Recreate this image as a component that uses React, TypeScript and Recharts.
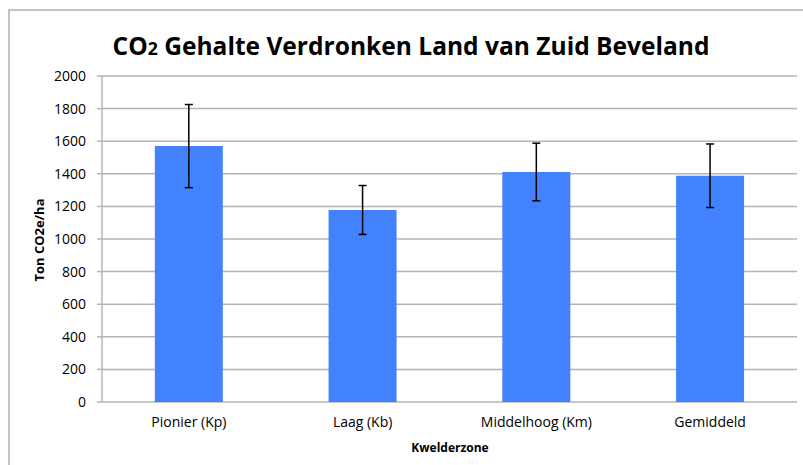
import React from 'react';
import { BarChart, Bar, XAxis, YAxis, CartesianGrid, ErrorBar } from 'recharts';

const categories = ['Pionier (Kp)', 'Laag (Kb)', 'Middelhoog (Km)', 'Gemiddeld'];
const values = [1570, 1178, 1411, 1388];
const errors = [255, 150, 177, 195];
const yTicks = [0, 200, 400, 600, 800, 1000, 1200, 1400, 1600, 1800, 2000];
const boundaryTicks = [0, 1, 2, 3, 4];

const titleMain = 'CO';
const titleSub = '2';
const titleRest = ' Gehalte Verdronken Land van Zuid Beveland';
const yLabel = 'Ton CO2e/ha';
const xLabel = 'Kwelderzone';

const data = categories.map((c, i) => ({ name: c, value: values[i], error: errors[i] }));

const FONT = '"Open Sans", "Noto Sans", sans-serif';
const GRID = '#b4b4b4';

export default function App() {
  return (
    <div style={{ position: 'absolute', left: 0, top: 0, width: 803, height: 465, background: '#fff', overflow: 'hidden' }}>
      <div style={{ position: 'absolute', left: 8, top: 9, width: 795, height: 2, background: '#c4c4c4' }} />
      <div style={{ position: 'absolute', left: 8, top: 9, width: 2, height: 456, background: '#c4c4c4' }} />
      <div style={{ position: 'absolute', left: 0, top: 0 }}>
        <BarChart
          width={803}
          height={465}
          data={data}
          margin={{ top: 76, right: 6, bottom: 0, left: 42 }}
          barCategoryGap="30.4%"
        >
          <CartesianGrid vertical={false} stroke={GRID} strokeWidth={1.5} />
          <XAxis
            xAxisId="bounds"
            type="number"
            domain={[0, 4]}
            ticks={boundaryTicks}
            height={0}
            tick={() => <g />}
            tickSize={5}
            stroke={GRID}
            strokeWidth={1.5}
            allowDataOverflow
          />
          <XAxis
            dataKey="name"
            height={63}
            axisLine={false}
            tickLine={false}
            tickSize={5}
            tickMargin={10}
            interval={0}
            tick={{ fill: '#000', fontSize: 14, fontFamily: FONT }}
          />
          <YAxis
            width={60}
            domain={[0, 2000]}
            ticks={yTicks}
            interval={0}
            tickSize={5}
            tickMargin={11}
            stroke={GRID}
            strokeWidth={1.5}
            tick={{ fill: '#000', fontSize: 14, fontFamily: FONT }}
          />
          <Bar dataKey="value" fill="#4282fe" isAnimationActive={false}>
            <ErrorBar dataKey="error" width={4} stroke="#000" strokeWidth={1.5} direction="y" />
          </Bar>
        </BarChart>
      </div>
      <svg width={803} height={465} style={{ position: 'absolute', left: 0, top: 0, pointerEvents: 'none' }}>
        <text x={411} y={55} textAnchor="middle" fontFamily={FONT} fontWeight="bold" fontSize={25} fill="#000" textLength={597} lengthAdjust="spacingAndGlyphs">
          {titleMain}
          <tspan fontSize={18}>{titleSub}</tspan>
          {titleRest}
        </text>
        <text x={44} y={240} textAnchor="middle" fontFamily={FONT} fontWeight="bold" fontSize={13} fill="#000" transform="rotate(-90 44 240)">
          {yLabel}
        </text>
        <text x={450} y={452} textAnchor="middle" fontFamily={FONT} fontWeight="bold" fontSize={12} fill="#000">
          {xLabel}
        </text>
      </svg>
    </div>
  );
}
